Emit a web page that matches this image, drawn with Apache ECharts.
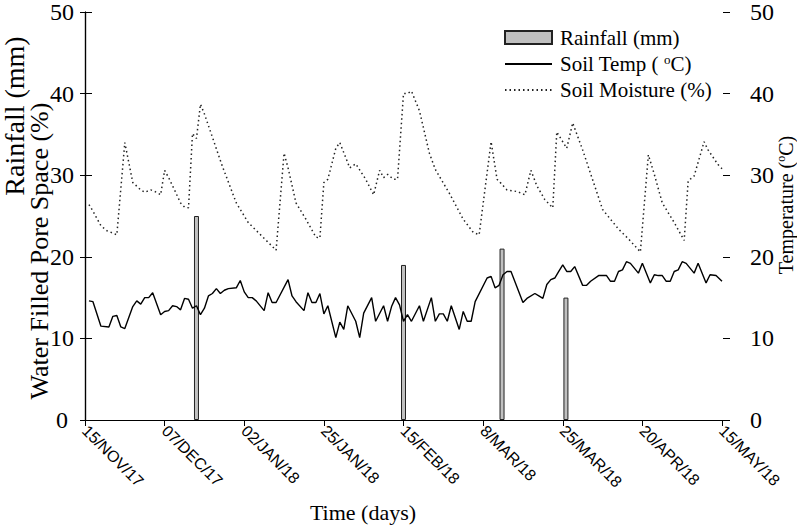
<!DOCTYPE html>
<html><head><meta charset="utf-8">
<script src="https://cdn.jsdelivr.net/npm/echarts@6/dist/echarts.min.js"></script>
<style>html,body{margin:0;padding:0;background:#fff}#c{width:797px;height:525px}</style>
</head><body><div id="c"></div>
<script>
// x tick labels (equally spaced sampling positions, 20 sample-days apart)
const xTickLabels = ['15/NOV/17','07/DEC/17','02/JAN/18','25/JAN/18','15/FEB/18','8/MAR/18','25/MAR/18','20/APR/18','15/MAY/18'];

// Rainfall events: [sample day, mm]
const rainfall = [[28,25],[80,19],[104.75,21],[120.8,15]];

// Soil temperature: [sample day, °C]
const soilTemp = [[1,14.6],[2,14.5],[4,11.5],[6,11.4],[7,12.7],[8,12.8],[9,11.4],[10,11.2],[12,13.9],[13,14.6],[14,14.2],[15,15.0],[16,15.0],[17,15.6],[19,12.9],[20,13.3],[21,13.4],[22,14.0],[23,13.9],[24,13.5],[25,14.9],[26,14.8],[27,13.7],[28,14.0],[29,12.9],[30,13.7],[31,15.2],[32,15.5],[33,16.1],[34,15.5],[35,15.9],[36,16.1],[38,16.2],[39,17.1],[40,15.7],[41,15.0],[42,15.0],[43,14.6],[45,13.4],[46,15.6],[47,14.4],[48,14.4],[51,17.2],[52,15.2],[53,14.5],[55,13.4],[56,15.6],[57,14.4],[58,14.4],[59,15.5],[60,13.0],[61,14.0],[63,10.1],[64,12.0],[65,11.1],[66,14.0],[68,12.1],[69,10.1],[70,13.1],[72,15.0],[73,12.1],[75,14.0],[76,12.1],[77,13.9],[78,15.0],[79,14.1],[80,12.1],[81,12.9],[82,12.1],[84,14.0],[85,12.1],[87,15.0],[88,12.1],[89,13.0],[90,13.0],[91,12.1],[92,14.0],[94,11.1],[95,13.3],[96,12.1],[97,12.1],[98,14.5],[101,17.4],[102,17.6],[103,16.2],[104,16.5],[105,17.8],[106,18.2],[107,18.2],[110,14.4],[111,14.9],[113,15.5],[114,15.2],[115,14.9],[116,16.6],[117,17.2],[118,17.4],[119,18.2],[120,19.0],[121,18.2],[122,18.2],[123,18.8],[125,16.5],[126,16.5],[127,17.0],[129,17.7],[130,17.7],[131,17.7],[132,17.0],[133,17.0],[134,18.2],[135,18.4],[136,19.4],[137,19.2],[139,18.0],[140,19.2],[142,16.8],[143,17.8],[144,17.7],[145,17.7],[146,17.0],[147,17.0],[148,18.2],[149,18.4],[150,19.4],[151,19.2],[153,18.0],[154,19.2],[156,16.8],[157,17.8],[158.5,17.7],[160,17.0]];

// Soil moisture (WFPS): [sample day, %]
const soilMoisture = [[1,26.4],[2,25.6],[4,23.8],[5.5,23.2],[8,22.7],[10,34.0],[12,29.1],[14,28.2],[15,27.9],[16.5,28.2],[18,27.9],[19,27.6],[20,30.6],[21,29.7],[22,28.7],[24,26.6],[25,26.1],[26,26.0],[27,35.1],[28,34.5],[29,38.7],[30,37.5],[34.5,31.1],[38,26.6],[41,24.2],[44.5,22.5],[48,20.8],[50,32.7],[51,30.9],[53,26.6],[55.5,24.6],[58,22.4],[59,22.3],[60,29.1],[61,29.5],[63,33.3],[64,34.0],[66.5,30.9],[68,31.4],[70.5,29.5],[72.5,27.6],[74,30.6],[75,29.7],[76,30.1],[77.5,29.5],[78.5,29.5],[80,40.0],[81,40.0],[82,40.3],[84,37.9],[86.5,32.7],[88,30.7],[91.5,27.8],[95,24.6],[97.5,23.0],[99,22.7],[102,34.1],[103.5,29.5],[104.5,29.0],[106,28.2],[108.5,28.0],[110.5,27.6],[112,30.6],[113.5,28.7],[115.5,27.0],[117.5,26.0],[118.5,35.3],[121,33.3],[122.5,36.4],[125,33.1],[130,25.8],[134,23.4],[136.5,22.2],[139.5,20.6],[141.5,32.5],[143,30.1],[145,26.6],[148,24.2],[150.5,22.0],[151.5,29.3],[153,29.9],[155.5,34.1],[156.5,33.1],[159,31.3],[160,30.8]];

const F = '"Liberation Serif", "Times New Roman", serif';
const FS = '"Liberation Sans", Arial, sans-serif';
const chart = echarts.init(document.getElementById('c'), null, {renderer: 'svg'});

const yBase = {type: 'value', min: 0, max: 50, interval: 10, splitLine: {show: false}};

chart.setOption({
  animation: false,
  backgroundColor: '#fff',
  grid: {left: 85, right: 75, top: 7, bottom: 105},
  legend: {
    orient: 'vertical', left: 499, top: 22,
    itemWidth: 47, itemHeight: 13, itemGap: 5,
    data: [
      {name: 'Rainfall (mm)', icon: 'rect'},
      {name: 'Soil Temp', itemStyle: {opacity: 0}},
      {name: 'Soil Moisture (%)', itemStyle: {opacity: 0}}
    ],
    formatter: function (name) {
      if (name === 'Soil Temp') return '{t|Soil Temp ( }{s|o}{t|C)}';
      return '{t|' + name + '}';
    },
    textStyle: {
      fontFamily: F, fontSize: 21, color: '#000', padding: [0, 0, 0, 3],
      rich: {
        t: {fontFamily: F, fontSize: 21, color: '#000', lineHeight: 22},
        s: {fontFamily: F, fontSize: 13, color: '#000', verticalAlign: 'top', lineHeight: 22}
      }
    }
  },
  xAxis: [
    {type: 'value', min: 0, max: 160, interval: 20, splitLine: {show: false},
     axisLine: {lineStyle: {color: '#000', width: 1.2}},
     axisTick: {length: 6, lineStyle: {color: '#000'}},
     axisLabel: {rotate: -45, margin: 8, fontFamily: FS, fontSize: 16, color: '#000',
       formatter: function (v) { return xTickLabels[Math.round(v / 20)]; }}},
    {type: 'value', position: 'top', min: 0, max: 160, splitLine: {show: false},
     axisLine: {show: true, lineStyle: {color: '#000', width: 1.2}},
     axisTick: {show: false}, axisLabel: {show: false}}
  ],
  yAxis: [
    Object.assign({}, yBase, {position: 'left',
      axisLine: {show: true, lineStyle: {color: '#000', width: 1.2}},
      axisTick: {show: true, length: 5, lineStyle: {color: '#000'}},
      axisLabel: {margin: 23, align: 'center', fontFamily: F, fontSize: 24, color: '#000'}}),
    Object.assign({}, yBase, {position: 'right', offset: 8,
      axisLine: {show: true, lineStyle: {color: '#000', width: 1.2}},
      axisTick: {show: true, length: 7, lineStyle: {color: '#000'}},
      axisLabel: {margin: 20, fontFamily: F, fontSize: 24, color: '#000'}}),
    Object.assign({}, yBase, {position: 'left',
      axisLine: {show: false}, axisTick: {show: true, inside: true, length: 7, lineStyle: {color: '#000'}},
      axisLabel: {show: false}}),
    Object.assign({}, yBase, {position: 'right', offset: 8,
      axisLine: {show: false}, axisTick: {show: true, inside: true, length: 7, lineStyle: {color: '#000'}},
      axisLabel: {show: false}})
  ],
  series: [
    {name: 'Rainfall (mm)', type: 'bar', xAxisIndex: 0, yAxisIndex: 0, data: rainfall, barWidth: 5,
     itemStyle: {color: '#c0c0c0', borderColor: '#222', borderWidth: 1}},
    {name: 'Soil Temp', type: 'line', xAxisIndex: 0, yAxisIndex: 1, data: soilTemp, showSymbol: false, symbol: 'none',
     lineStyle: {color: '#000', width: 1.4}, itemStyle: {color: '#000'}},
    {name: 'Soil Moisture (%)', type: 'line', xAxisIndex: 0, yAxisIndex: 0, data: soilMoisture, showSymbol: false, symbol: 'none',
     lineStyle: {color: '#222', width: 1.5, type: [1.5, 3]}, itemStyle: {color: '#222'}}
  ],
  graphic: [
    {type: 'text', x: 14, y: 116, rotation: Math.PI / 2,
     style: {text: 'Rainfall (mm)', font: '28px ' + F, fill: '#000', align: 'center', verticalAlign: 'middle', textAlign: 'center', textVerticalAlign: 'middle'}},
    {type: 'text', x: 39, y: 251, rotation: Math.PI / 2,
     style: {text: 'Water Filled Pore Space (%)', font: '26px ' + F, fill: '#000', align: 'center', verticalAlign: 'middle', textAlign: 'center', textVerticalAlign: 'middle'}},
    {type: 'text', x: 786, y: 205, rotation: Math.PI / 2,
     style: {text: '{a|Temperature (}{s|o}{a|C)}', fill: '#000', align: 'center', verticalAlign: 'middle', textAlign: 'center', textVerticalAlign: 'middle',
       rich: {a: {fontFamily: F, fontSize: 20, fill: '#000', lineHeight: 22}, s: {fontFamily: F, fontSize: 12, fill: '#000', verticalAlign: 'top', lineHeight: 22}}}},
    {type: 'text', x: 363, y: 512,
     style: {text: 'Time (days)', font: '22px ' + F, fill: '#000', align: 'center', verticalAlign: 'middle', textAlign: 'center', textVerticalAlign: 'middle'}}
  ]
});
</script></body></html>
